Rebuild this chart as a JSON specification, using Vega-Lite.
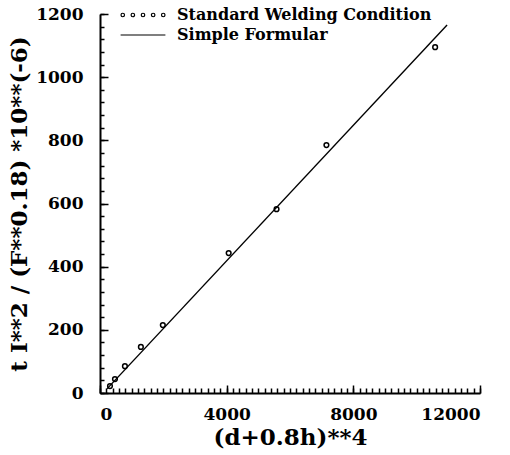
{
  "$schema": "https://vega.github.io/schema/vega-lite/v6.json",
  "width": 380,
  "height": 379,
  "autosize": {"type": "none"},
  "padding": {"left": 100, "top": 14, "right": 30, "bottom": 62},
  "background": "white",
  "config": {
    "view": {"stroke": null},
    "axis": {
      "labelFont": "DejaVu Serif",
      "labelFontWeight": "bold",
      "labelFontSize": 17,
      "labelColor": "black",
      "titleFont": "DejaVu Serif",
      "titleFontWeight": "bold",
      "titleColor": "black",
      "domainColor": "black",
      "domainWidth": 2,
      "tickColor": "black",
      "tickWidth": 1.5,
      "grid": false
    },
    "legend": {
      "labelFont": "DejaVu Serif",
      "labelFontWeight": "bold",
      "labelFontSize": 16,
      "labelColor": "black",
      "labelLimit": 400
    }
  },
  "datasets": {
    "points": [
      {"x": 315, "y": 22, "series": "Standard Welding Condition"},
      {"x": 472, "y": 44, "series": "Standard Welding Condition"},
      {"x": 787, "y": 85, "series": "Standard Welding Condition"},
      {"x": 1291, "y": 146, "series": "Standard Welding Condition"},
      {"x": 1984, "y": 215, "series": "Standard Welding Condition"},
      {"x": 4063, "y": 443, "series": "Standard Welding Condition"},
      {"x": 5575, "y": 582, "series": "Standard Welding Condition"},
      {"x": 7150, "y": 785, "series": "Standard Welding Condition"},
      {"x": 10583, "y": 1095, "series": "Standard Welding Condition"}
    ],
    "fit": [
      {"x": 220, "y": 13, "series": "Simple Formular"},
      {"x": 10960, "y": 1165, "series": "Simple Formular"}
    ],
    "legendrows": [
      {"series": "Standard Welding Condition"},
      {"series": "Simple Formular"}
    ]
  },
  "layer": [
    {
      "data": {"name": "fit"},
      "mark": {"type": "line", "color": "black", "strokeWidth": 1.4},
      "encoding": {
        "x": {
          "field": "x", "type": "quantitative",
          "scale": {"domain": [0, 12000], "nice": false},
          "axis": {
            "values": [0, 4000, 8000, 12000],
            "format": "d",
            "tickSize": -8,
            "labelPadding": 21,
            "title": "(d+0.8h)**4",
            "titleFontSize": 23,
            "titlePadding": 4
          }
        },
        "y": {
          "field": "y", "type": "quantitative",
          "scale": {"domain": [0, 1200], "nice": false},
          "axis": {
            "values": [0, 200, 400, 600, 800, 1000, 1200],
            "format": "d",
            "tickSize": -8,
            "labelPadding": 25,
            "title": "t I**2 / (F**0.18) *10**(-6)",
            "titleFontSize": 23,
            "titlePadding": 4
          }
        }
      }
    },
    {
      "data": {"name": "points"},
      "mark": {"type": "point", "shape": "circle", "filled": false, "color": "black", "size": 22, "strokeWidth": 1.5, "opacity": 1},
      "encoding": {
        "x": {
          "field": "x", "type": "quantitative",
          "axis": {
            "orient": "bottom",
            "values": [0,200,400,600,800,1000,1200,1400,1600,1800,2000,2200,2400,2600,2800,3000,3200,3400,3600,3800,4000,4200,4400,4600,4800,5000,5200,5400,5600,5800,6000,6200,6400,6600,6800,7000,7200,7400,7600,7800,8000,8200,8400,8600,8800,9000,9200,9400,9600,9800,10000,10200,10400,10600,10800,11000,11200,11400,11600,11800,12000],
            "tickSize": -5,
            "labels": false,
            "domain": false,
            "title": null
          }
        },
        "y": {
          "field": "y", "type": "quantitative",
          "axis": {
            "orient": "left",
            "values": [0,40,80,120,160,200,240,280,320,360,400,440,480,520,560,600,640,680,720,760,800,840,880,920,960,1000,1040,1080,1120,1160,1200],
            "tickSize": -4,
            "labels": false,
            "domain": false,
            "title": null
          }
        }
      }
    },
    {
      "data": {"name": "legendrows"},
      "mark": {"type": "point", "opacity": 0, "filled": false},
      "encoding": {
        "shape": {
          "field": "series", "type": "nominal",
          "scale": {
            "domain": ["Standard Welding Condition", "Simple Formular"],
            "range": [
              "M-2.75,0a0.22,0.22 0 1,0 0.44,0a0.22,0.22 0 1,0 -0.44,0M-1.49,0a0.22,0.22 0 1,0 0.44,0a0.22,0.22 0 1,0 -0.44,0M-0.22,0a0.22,0.22 0 1,0 0.44,0a0.22,0.22 0 1,0 -0.44,0M1.05,0a0.22,0.22 0 1,0 0.44,0a0.22,0.22 0 1,0 -0.44,0M2.31,0a0.22,0.22 0 1,0 0.44,0a0.22,0.22 0 1,0 -0.44,0",
              "M-2.8,0L2.8,0"
            ]
          },
          "legend": {
            "orient": "none",
            "legendX": 34,
            "legendY": -8,
            "title": null,
            "padding": 0,
            "symbolSize": 256,
            "symbolOpacity": 1,
            "symbolStrokeColor": "black",
            "symbolFillColor": "transparent",
            "symbolStrokeWidth": 1.2,
            "labelOffset": 25,
            "rowPadding": 3
          }
        }
      }
    }
  ],
  "resolve": {"axis": {"x": "independent", "y": "independent"}}
}
